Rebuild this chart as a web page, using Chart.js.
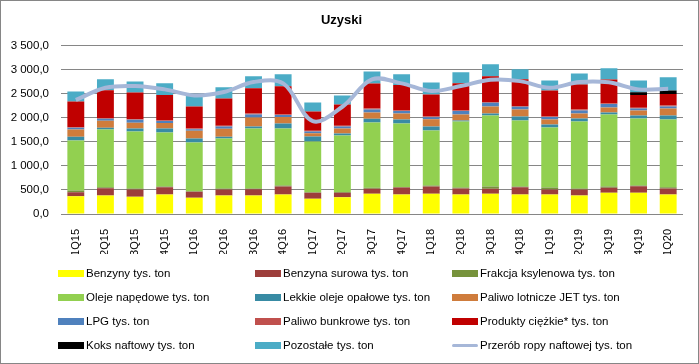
<!DOCTYPE html>
<html><head><meta charset="utf-8">
<script src="https://cdn.jsdelivr.net/npm/chart.js@4.4.1/dist/chart.umd.min.js"></script>
<style>
html,body{margin:0;padding:0;background:#fff;}
#wrap{position:relative;width:699px;height:364px;overflow:hidden;font-family:"Liberation Sans",Arial,sans-serif;}
#c{position:absolute;left:0;top:0;}
#frame{position:absolute;left:0;top:0;width:697px;height:362px;border:1px solid #868686;pointer-events:none;}
#legend{position:absolute;left:0;top:0;width:699px;height:364px;pointer-events:none;}
.lt{position:absolute;font-size:11.5px;color:#000;white-space:nowrap;line-height:14px;}
.sw{position:absolute;}
</style></head>
<body><div id="wrap"><canvas id="c" width="699" height="364"></canvas><div id="legend"></div><div id="frame"></div></div>
<script>
const categories = ['1Q15','2Q15','3Q15','4Q15','1Q16','2Q16','3Q16','4Q16','1Q17','2Q17','3Q17','4Q17','1Q18','2Q18','3Q18','4Q18','1Q19','2Q19','3Q19','4Q19','1Q20'];
const benzyny        = [368,382,361,403,340,382,382,403,319,347,423,403,423,403,423,403,403,382,444,444,403];
const benzynaSurowa  = [83,153,146,153,125,125,132,167,125,97,104,146,146,125,104,153,104,125,104,132,125];
const frakcjaKsylen  = [35,21,21,14,7,21,14,21,7,14,21,14,21,21,42,14,42,21,21,14,28];
const olejeNapedowe  = [1041,1201,1187,1125,1013,1041,1250,1187,1055,1173,1354,1319,1145,1375,1479,1375,1250,1395,1500,1395,1409];
const lekkieOleje    = [76,35,62,83,83,35,42,104,104,42,76,83,83,21,42,83,62,62,42,62,83];
const paliwoJet      = [153,146,118,111,160,167,187,132,69,104,132,125,153,125,146,146,104,104,104,104,146];
const lpg            = [35,42,62,42,35,49,62,42,35,42,62,49,42,69,76,56,49,62,69,42,42];
const paliwoBunkrowe = [14,14,14,14,14,14,21,14,14,14,21,14,14,14,14,14,14,21,14,14,21];
const produktyCiezkie= [535,576,555,527,458,569,521,583,403,444,521,527,458,562,535,555,541,521,500,264,236];
const koksNaftowy    = [0,0,0,0,0,0,0,0,0,0,0,0,0,0,0,0,0,0,0,62,76];
const pozostale      = [208,229,229,243,264,229,250,250,187,187,250,222,250,229,250,208,208,229,229,243,271];
const przerobRopy    = [2370,2624,2660,2590,2465,2535,2743,2715,1930,2229,2798,2715,2555,2660,2790,2762,2624,2743,2736,2590,2604];
const yTicks = [0,500,1000,1500,2000,2500,3000,3500];

const barSeries = [
  ['Benzyny tys. ton', benzyny, '#FFFF00'],
  ['Benzyna surowa tys. ton', benzynaSurowa, '#9D3E3B'],
  ['Frakcja ksylenowa tys. ton', frakcjaKsylen, '#77933C'],
  ['Oleje napędowe tys. ton', olejeNapedowe, '#92D050'],
  ['Lekkie oleje opałowe tys. ton', lekkieOleje, '#388BA4'],
  ['Paliwo lotnicze JET tys. ton', paliwoJet, '#CF7C3C'],
  ['LPG tys. ton', lpg, '#4F81BD'],
  ['Paliwo bunkrowe tys. ton', paliwoBunkrowe, '#C0504D'],
  ['Produkty ciężkie* tys. ton', produktyCiezkie, '#C00000'],
  ['Koks naftowy  tys. ton', koksNaftowy, '#000000'],
  ['Pozostałe tys. ton', pozostale, '#4BACC6']
];
const lineColor = '#A6B7D8';

function plFmt(v){
  const s = Number(v).toFixed(1).split('.');
  return s[0].replace(/\B(?=(\d{3})+(?!\d))/g,' ') + ',' + s[1];
}

const datasets = barSeries.map(([label, data, color]) => ({
  type:'bar', label, data, backgroundColor: color, borderWidth:0,
  barPercentage:0.57, categoryPercentage:1, order:1, stack:'s'
}));
datasets.push({
  type:'line', label:'Przerób ropy naftowej tys. ton', data: przerobRopy,
  borderColor: lineColor, backgroundColor: lineColor, borderWidth:4,
  pointRadius:0, tension:0.35, fill:false, order:0, stack:'line'
});

const FONT = "'Liberation Sans', Arial, sans-serif";
const chart = new Chart(document.getElementById('c'), {
  data: { labels: categories, datasets },
  options: {
    responsive:false, animation:false, devicePixelRatio:1,
    layout:{ padding:{ left:0, right:16, top:0, bottom:110 } },
    plugins:{
      legend:{ display:false },
      tooltip:{ enabled:false },
      title:{ display:true, text:'Uzyski', color:'#000',
        font:{ family:FONT, size:13, weight:'bold' }, padding:{ top:13, bottom:17 } }
    },
    scales:{
      x:{ stacked:true, grid:{ display:false }, border:{ display:false },
        ticks:{ color:'#000', font:{ family:FONT, size:11 }, minRotation:90, maxRotation:90, padding:7, autoSkip:false },
        afterFit: s => { s.height = 40; } },
      y:{ stacked:true, min:0, max:3500,
        afterBuildTicks: s => { s.ticks = yTicks.map(v => ({ value:v })); },
        grid:{ color:'#868686', lineWidth:1, drawTicks:false },
        border:{ display:false },
        ticks:{ color:'#000', font:{ family:FONT, size:11.5 }, padding:12, callback: v => plFmt(v) },
        afterFit: s => { s.width = 61; } }
    }
  }
});

// HTML legend built from chart datasets (3 columns x 4 rows)
const leg = document.getElementById('legend');
const colX = [58, 255, 452];
const rowY = [273, 297, 321, 345];
chart.data.datasets.forEach((ds, i) => {
  const col = i % 3, row = Math.floor(i / 3);
  const x = colX[col], cy = rowY[row];
  const sw = document.createElement('div');
  sw.className = 'sw';
  const isLine = ds.type === 'line';
  sw.style.left = x + 'px';
  sw.style.width = '26px';
  sw.style.height = (isLine ? 3 : 7) + 'px';
  sw.style.top = (cy - (isLine ? 1.5 : 3.5)) + 'px';
  sw.style.background = isLine ? ds.borderColor : ds.backgroundColor;
  if (isLine) sw.style.borderRadius = '2px';
  leg.appendChild(sw);
  const t = document.createElement('div');
  t.className = 'lt';
  t.style.left = (x + 28) + 'px';
  t.style.top = (cy - 7) + 'px';
  t.textContent = ds.label;
  leg.appendChild(t);
});
</script>
</body></html>
